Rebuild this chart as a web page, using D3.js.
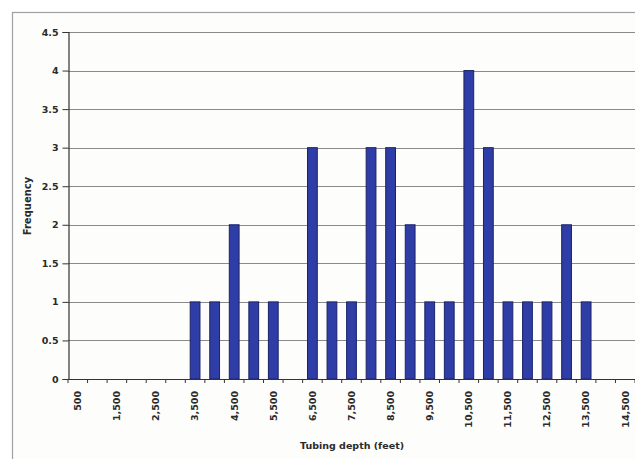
<!DOCTYPE html>
<html><head><meta charset="utf-8">
<script src="https://cdn.jsdelivr.net/npm/d3@7"></script>
<style>body{margin:0;background:#fff}svg{display:block}</style>
</head><body>
<svg id="c" width="635" height="459"></svg>
<script>
const depths = [500,1000,1500,2000,2500,3000,3500,4000,4500,5000,5500,6000,6500,7000,7500,8000,8500,9000,9500,10000,10500,11000,11500,12000,12500,13000,13500,14000,14500];
const frequency = [0,0,0,0,0,0,1,1,2,1,1,0,3,1,1,3,3,2,1,1,4,3,1,1,1,2,1,0,0];
const xTickLabels = [500,1500,2500,3500,4500,5500,6500,7500,8500,9500,10500,11500,12500,13500,14500];
const yTicks = [0,0.5,1,1.5,2,2.5,3,3.5,4,4.5];

const svg = d3.select("#c");
const font = "'DejaVu Sans', Verdana, sans-serif";
const L = 68, R = 635, T = 32, B = 379;

svg.append("rect").attr("x",12.5).attr("y",12.5).attr("width",640).attr("height",460)
  .attr("fill","#fdfdfb").attr("stroke","#a0a0a0").attr("stroke-width",1.2);

const x = d3.scaleBand().domain(depths).range([L,R]).paddingInner(0.5).paddingOuter(0.25);
const y = d3.scaleLinear().domain([0,4.5]).range([B,T]);
const step = x.step();
const x0 = x(depths[0]) - x.paddingOuter()*step;

// gridlines
svg.append("g").selectAll("line").data(yTicks.filter(d=>d>0)).join("line")
  .attr("x1",L).attr("x2",R).attr("y1",d=>Math.round(y(d))+0.5).attr("y2",d=>Math.round(y(d))+0.5)
  .attr("stroke","#8a8a8a").attr("stroke-width",1.1);

// bars
svg.append("g").selectAll("rect").data(depths.map((d,i)=>({d,v:frequency[i]})).filter(o=>o.v>0)).join("rect")
  .attr("x",o=>x(o.d)).attr("width",x.bandwidth())
  .attr("y",o=>y(o.v)).attr("height",o=>y(0)-y(o.v))
  .attr("fill","#2f3ea6").attr("stroke","#1c2266").attr("stroke-width",1);

// y axis
const ya = svg.append("g").attr("transform",`translate(${L+0.5},0)`)
  .call(d3.axisLeft(y).tickValues(yTicks).tickSize(6).tickFormat(d3.format("")));
ya.select(".domain").attr("stroke","#333").attr("stroke-width",1.2);
ya.selectAll(".tick line").attr("stroke","#333");
ya.selectAll("text").attr("font-family",font).attr("font-size",9.5).attr("font-weight","bold").attr("fill","#2a2a2a").attr("x",-10);

// x axis line
svg.append("line").attr("x1",L).attr("x2",R).attr("y1",B+0.5).attr("y2",B+0.5).attr("stroke","#333").attr("stroke-width",1.2);
// boundary ticks
svg.append("g").selectAll("line").data(d3.range(depths.length+1)).join("line")
  .attr("x1",i=>x0+i*step).attr("x2",i=>x0+i*step).attr("y1",B).attr("y2",B+4)
  .attr("stroke","#333");

// x labels
const xa = svg.append("g").attr("transform",`translate(0,${B})`)
  .call(d3.axisBottom(x).tickValues(xTickLabels).tickSize(0).tickFormat(d3.format(",")));
xa.select(".domain").remove();
xa.selectAll("text").attr("font-family",font).attr("font-size",9.5).attr("font-weight","bold").attr("fill","#2a2a2a")
  .attr("transform","rotate(-90)").attr("text-anchor","end").attr("x",-12).attr("y",0).attr("dy","0.35em");

// titles
svg.append("text").attr("x",352).attr("y",449).attr("text-anchor","middle")
  .attr("font-family",font).attr("font-size",9.5).attr("font-weight","bold").attr("fill","#2a2a2a")
  .text("Tubing depth (feet)");
svg.append("text").attr("transform","translate(31,206) rotate(-90)").attr("text-anchor","middle")
  .attr("font-family",font).attr("font-size",10).attr("font-weight","bold").attr("fill","#2a2a2a")
  .text("Frequency");
</script>
</body></html>
